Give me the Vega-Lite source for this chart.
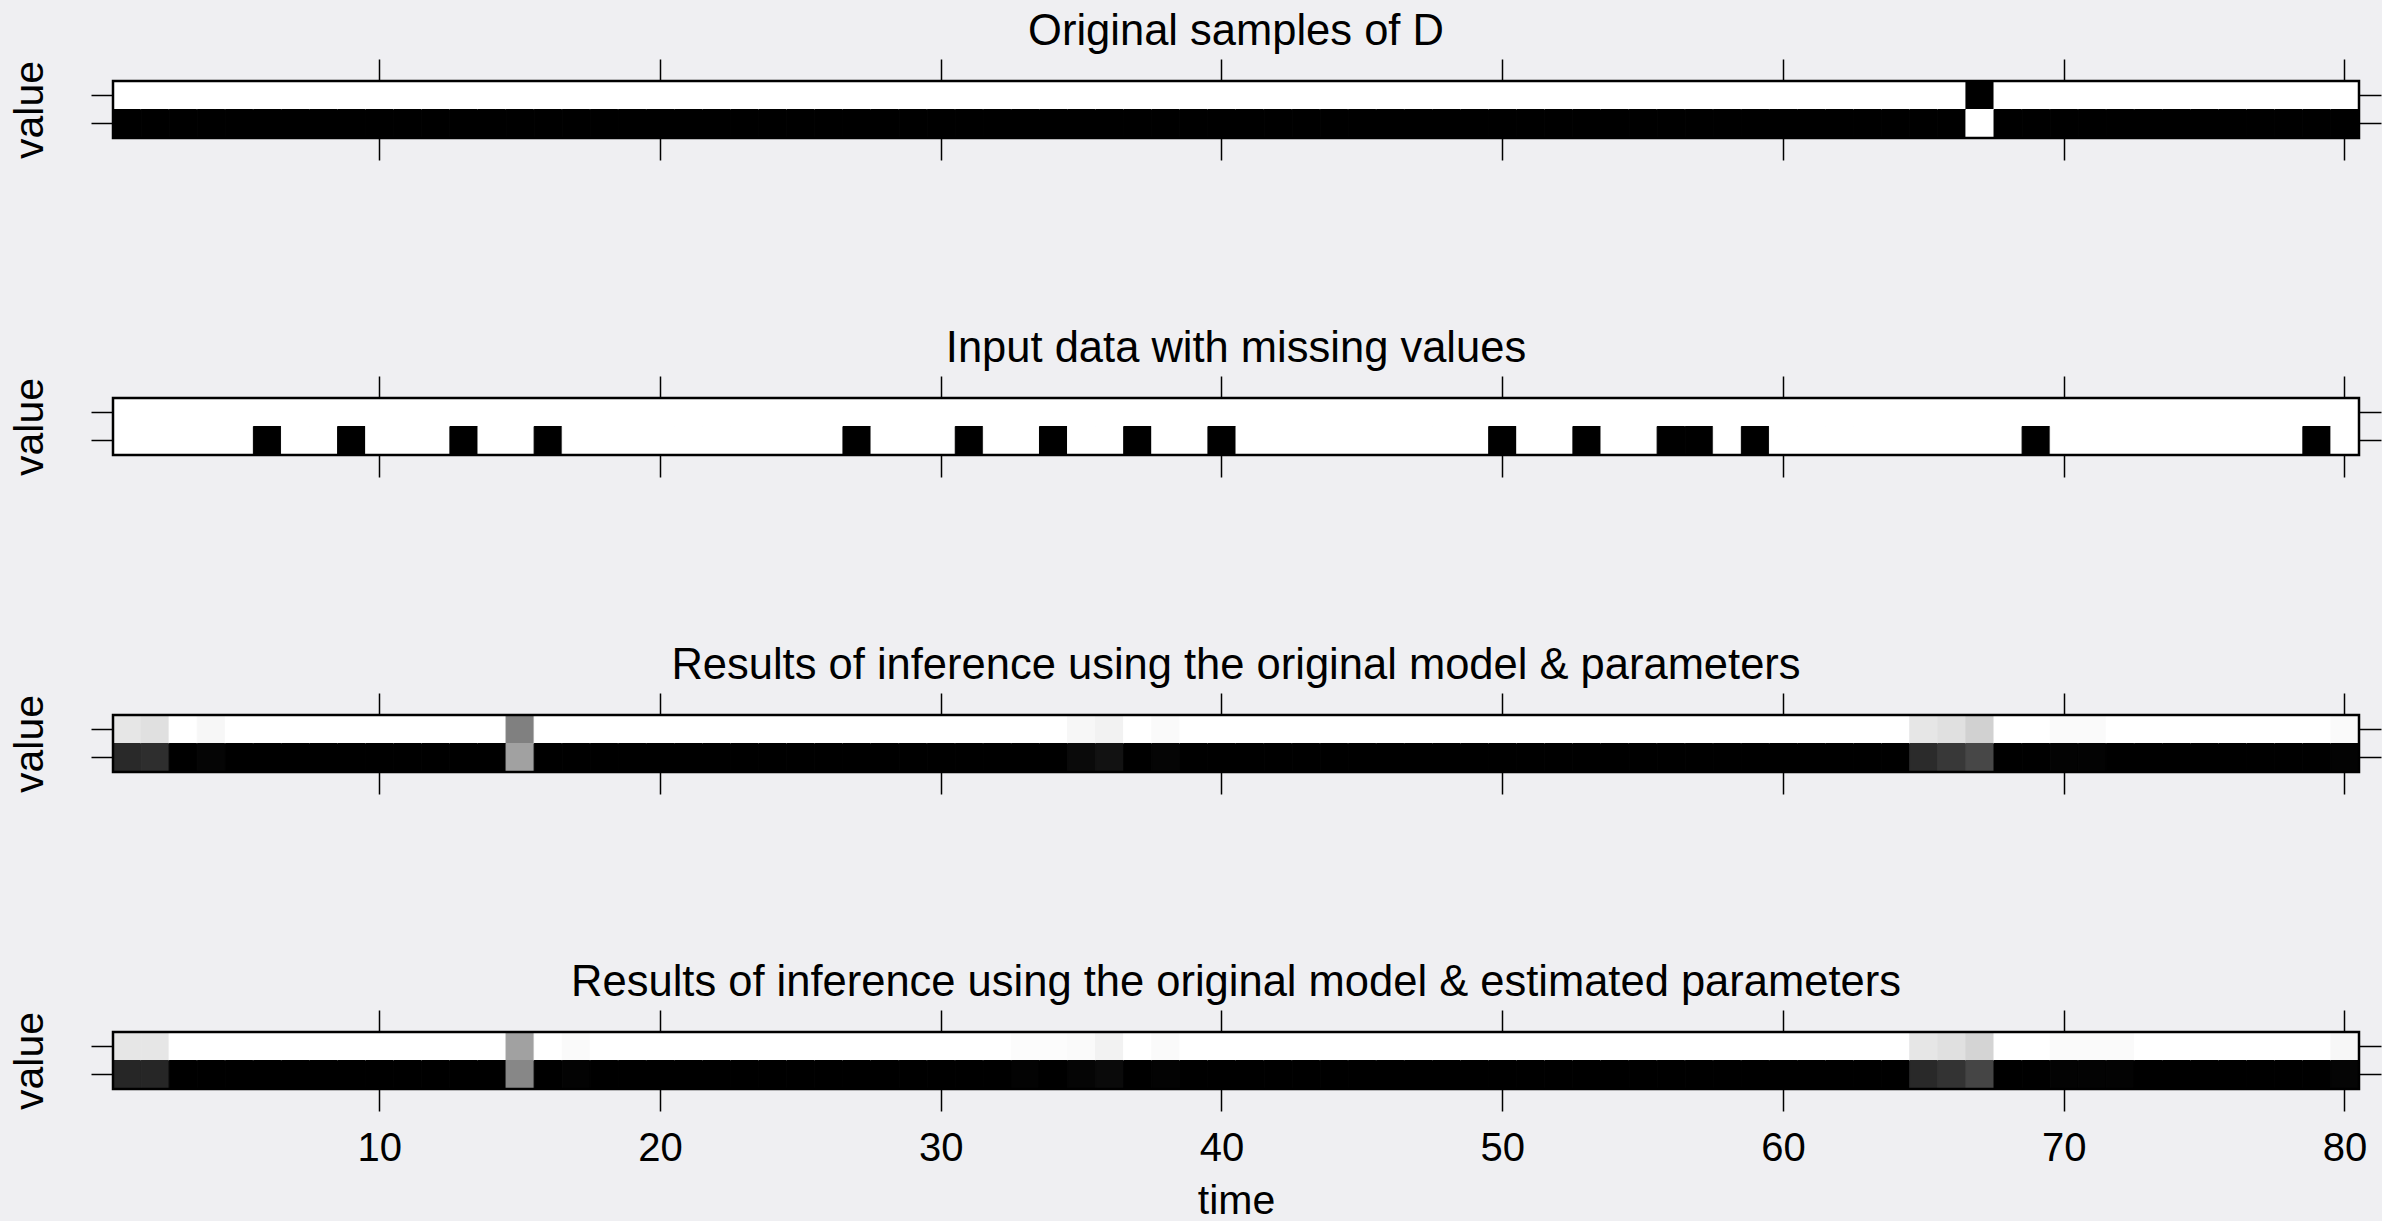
{
"$schema": "https://vega.github.io/schema/vega-lite/v6.json",
"background": "#efeff2",
"padding": {"left": 9, "top": 9, "right": 0, "bottom": 0},
"spacing": 165,
"config": {
 "font": "Liberation Sans",
 "view": {"stroke": null},
 "axis": {"domain": false, "grid": false, "tickColor": "black", "tickWidth": 1.5, "tickSize": 22, "labelFont": "Liberation Sans", "labelFontSize": 40, "labelColor": "black", "labelAngle": 0, "titleFont": "Liberation Sans", "titleFontSize": 41, "titleFontWeight": "normal", "titleColor": "black"}
},
"datasets": {
"o": [
{"t":1,"v":2,"p":0},{"t":1,"v":1,"p":1},{"t":2,"v":2,"p":0},{"t":2,"v":1,"p":1},{"t":3,"v":2,"p":0},{"t":3,"v":1,"p":1},{"t":4,"v":2,"p":0},{"t":4,"v":1,"p":1},{"t":5,"v":2,"p":0},{"t":5,"v":1,"p":1},
{"t":6,"v":2,"p":0},{"t":6,"v":1,"p":1},{"t":7,"v":2,"p":0},{"t":7,"v":1,"p":1},{"t":8,"v":2,"p":0},{"t":8,"v":1,"p":1},{"t":9,"v":2,"p":0},{"t":9,"v":1,"p":1},{"t":10,"v":2,"p":0},{"t":10,"v":1,"p":1},
{"t":11,"v":2,"p":0},{"t":11,"v":1,"p":1},{"t":12,"v":2,"p":0},{"t":12,"v":1,"p":1},{"t":13,"v":2,"p":0},{"t":13,"v":1,"p":1},{"t":14,"v":2,"p":0},{"t":14,"v":1,"p":1},{"t":15,"v":2,"p":0},{"t":15,"v":1,"p":1},
{"t":16,"v":2,"p":0},{"t":16,"v":1,"p":1},{"t":17,"v":2,"p":0},{"t":17,"v":1,"p":1},{"t":18,"v":2,"p":0},{"t":18,"v":1,"p":1},{"t":19,"v":2,"p":0},{"t":19,"v":1,"p":1},{"t":20,"v":2,"p":0},{"t":20,"v":1,"p":1},
{"t":21,"v":2,"p":0},{"t":21,"v":1,"p":1},{"t":22,"v":2,"p":0},{"t":22,"v":1,"p":1},{"t":23,"v":2,"p":0},{"t":23,"v":1,"p":1},{"t":24,"v":2,"p":0},{"t":24,"v":1,"p":1},{"t":25,"v":2,"p":0},{"t":25,"v":1,"p":1},
{"t":26,"v":2,"p":0},{"t":26,"v":1,"p":1},{"t":27,"v":2,"p":0},{"t":27,"v":1,"p":1},{"t":28,"v":2,"p":0},{"t":28,"v":1,"p":1},{"t":29,"v":2,"p":0},{"t":29,"v":1,"p":1},{"t":30,"v":2,"p":0},{"t":30,"v":1,"p":1},
{"t":31,"v":2,"p":0},{"t":31,"v":1,"p":1},{"t":32,"v":2,"p":0},{"t":32,"v":1,"p":1},{"t":33,"v":2,"p":0},{"t":33,"v":1,"p":1},{"t":34,"v":2,"p":0},{"t":34,"v":1,"p":1},{"t":35,"v":2,"p":0},{"t":35,"v":1,"p":1},
{"t":36,"v":2,"p":0},{"t":36,"v":1,"p":1},{"t":37,"v":2,"p":0},{"t":37,"v":1,"p":1},{"t":38,"v":2,"p":0},{"t":38,"v":1,"p":1},{"t":39,"v":2,"p":0},{"t":39,"v":1,"p":1},{"t":40,"v":2,"p":0},{"t":40,"v":1,"p":1},
{"t":41,"v":2,"p":0},{"t":41,"v":1,"p":1},{"t":42,"v":2,"p":0},{"t":42,"v":1,"p":1},{"t":43,"v":2,"p":0},{"t":43,"v":1,"p":1},{"t":44,"v":2,"p":0},{"t":44,"v":1,"p":1},{"t":45,"v":2,"p":0},{"t":45,"v":1,"p":1},
{"t":46,"v":2,"p":0},{"t":46,"v":1,"p":1},{"t":47,"v":2,"p":0},{"t":47,"v":1,"p":1},{"t":48,"v":2,"p":0},{"t":48,"v":1,"p":1},{"t":49,"v":2,"p":0},{"t":49,"v":1,"p":1},{"t":50,"v":2,"p":0},{"t":50,"v":1,"p":1},
{"t":51,"v":2,"p":0},{"t":51,"v":1,"p":1},{"t":52,"v":2,"p":0},{"t":52,"v":1,"p":1},{"t":53,"v":2,"p":0},{"t":53,"v":1,"p":1},{"t":54,"v":2,"p":0},{"t":54,"v":1,"p":1},{"t":55,"v":2,"p":0},{"t":55,"v":1,"p":1},
{"t":56,"v":2,"p":0},{"t":56,"v":1,"p":1},{"t":57,"v":2,"p":0},{"t":57,"v":1,"p":1},{"t":58,"v":2,"p":0},{"t":58,"v":1,"p":1},{"t":59,"v":2,"p":0},{"t":59,"v":1,"p":1},{"t":60,"v":2,"p":0},{"t":60,"v":1,"p":1},
{"t":61,"v":2,"p":0},{"t":61,"v":1,"p":1},{"t":62,"v":2,"p":0},{"t":62,"v":1,"p":1},{"t":63,"v":2,"p":0},{"t":63,"v":1,"p":1},{"t":64,"v":2,"p":0},{"t":64,"v":1,"p":1},{"t":65,"v":2,"p":0},{"t":65,"v":1,"p":1},
{"t":66,"v":2,"p":0},{"t":66,"v":1,"p":1},{"t":67,"v":2,"p":1},{"t":67,"v":1,"p":0},{"t":68,"v":2,"p":0},{"t":68,"v":1,"p":1},{"t":69,"v":2,"p":0},{"t":69,"v":1,"p":1},{"t":70,"v":2,"p":0},{"t":70,"v":1,"p":1},
{"t":71,"v":2,"p":0},{"t":71,"v":1,"p":1},{"t":72,"v":2,"p":0},{"t":72,"v":1,"p":1},{"t":73,"v":2,"p":0},{"t":73,"v":1,"p":1},{"t":74,"v":2,"p":0},{"t":74,"v":1,"p":1},{"t":75,"v":2,"p":0},{"t":75,"v":1,"p":1},
{"t":76,"v":2,"p":0},{"t":76,"v":1,"p":1},{"t":77,"v":2,"p":0},{"t":77,"v":1,"p":1},{"t":78,"v":2,"p":0},{"t":78,"v":1,"p":1},{"t":79,"v":2,"p":0},{"t":79,"v":1,"p":1},{"t":80,"v":2,"p":0},{"t":80,"v":1,"p":1}
],
"i": [
{"t":1,"v":2,"p":0},{"t":1,"v":1,"p":0},{"t":2,"v":2,"p":0},{"t":2,"v":1,"p":0},{"t":3,"v":2,"p":0},{"t":3,"v":1,"p":0},{"t":4,"v":2,"p":0},{"t":4,"v":1,"p":0},{"t":5,"v":2,"p":0},{"t":5,"v":1,"p":0},
{"t":6,"v":2,"p":0},{"t":6,"v":1,"p":1},{"t":7,"v":2,"p":0},{"t":7,"v":1,"p":0},{"t":8,"v":2,"p":0},{"t":8,"v":1,"p":0},{"t":9,"v":2,"p":0},{"t":9,"v":1,"p":1},{"t":10,"v":2,"p":0},{"t":10,"v":1,"p":0},
{"t":11,"v":2,"p":0},{"t":11,"v":1,"p":0},{"t":12,"v":2,"p":0},{"t":12,"v":1,"p":0},{"t":13,"v":2,"p":0},{"t":13,"v":1,"p":1},{"t":14,"v":2,"p":0},{"t":14,"v":1,"p":0},{"t":15,"v":2,"p":0},{"t":15,"v":1,"p":0},
{"t":16,"v":2,"p":0},{"t":16,"v":1,"p":1},{"t":17,"v":2,"p":0},{"t":17,"v":1,"p":0},{"t":18,"v":2,"p":0},{"t":18,"v":1,"p":0},{"t":19,"v":2,"p":0},{"t":19,"v":1,"p":0},{"t":20,"v":2,"p":0},{"t":20,"v":1,"p":0},
{"t":21,"v":2,"p":0},{"t":21,"v":1,"p":0},{"t":22,"v":2,"p":0},{"t":22,"v":1,"p":0},{"t":23,"v":2,"p":0},{"t":23,"v":1,"p":0},{"t":24,"v":2,"p":0},{"t":24,"v":1,"p":0},{"t":25,"v":2,"p":0},{"t":25,"v":1,"p":0},
{"t":26,"v":2,"p":0},{"t":26,"v":1,"p":0},{"t":27,"v":2,"p":0},{"t":27,"v":1,"p":1},{"t":28,"v":2,"p":0},{"t":28,"v":1,"p":0},{"t":29,"v":2,"p":0},{"t":29,"v":1,"p":0},{"t":30,"v":2,"p":0},{"t":30,"v":1,"p":0},
{"t":31,"v":2,"p":0},{"t":31,"v":1,"p":1},{"t":32,"v":2,"p":0},{"t":32,"v":1,"p":0},{"t":33,"v":2,"p":0},{"t":33,"v":1,"p":0},{"t":34,"v":2,"p":0},{"t":34,"v":1,"p":1},{"t":35,"v":2,"p":0},{"t":35,"v":1,"p":0},
{"t":36,"v":2,"p":0},{"t":36,"v":1,"p":0},{"t":37,"v":2,"p":0},{"t":37,"v":1,"p":1},{"t":38,"v":2,"p":0},{"t":38,"v":1,"p":0},{"t":39,"v":2,"p":0},{"t":39,"v":1,"p":0},{"t":40,"v":2,"p":0},{"t":40,"v":1,"p":1},
{"t":41,"v":2,"p":0},{"t":41,"v":1,"p":0},{"t":42,"v":2,"p":0},{"t":42,"v":1,"p":0},{"t":43,"v":2,"p":0},{"t":43,"v":1,"p":0},{"t":44,"v":2,"p":0},{"t":44,"v":1,"p":0},{"t":45,"v":2,"p":0},{"t":45,"v":1,"p":0},
{"t":46,"v":2,"p":0},{"t":46,"v":1,"p":0},{"t":47,"v":2,"p":0},{"t":47,"v":1,"p":0},{"t":48,"v":2,"p":0},{"t":48,"v":1,"p":0},{"t":49,"v":2,"p":0},{"t":49,"v":1,"p":0},{"t":50,"v":2,"p":0},{"t":50,"v":1,"p":1},
{"t":51,"v":2,"p":0},{"t":51,"v":1,"p":0},{"t":52,"v":2,"p":0},{"t":52,"v":1,"p":0},{"t":53,"v":2,"p":0},{"t":53,"v":1,"p":1},{"t":54,"v":2,"p":0},{"t":54,"v":1,"p":0},{"t":55,"v":2,"p":0},{"t":55,"v":1,"p":0},
{"t":56,"v":2,"p":0},{"t":56,"v":1,"p":1},{"t":57,"v":2,"p":0},{"t":57,"v":1,"p":1},{"t":58,"v":2,"p":0},{"t":58,"v":1,"p":0},{"t":59,"v":2,"p":0},{"t":59,"v":1,"p":1},{"t":60,"v":2,"p":0},{"t":60,"v":1,"p":0},
{"t":61,"v":2,"p":0},{"t":61,"v":1,"p":0},{"t":62,"v":2,"p":0},{"t":62,"v":1,"p":0},{"t":63,"v":2,"p":0},{"t":63,"v":1,"p":0},{"t":64,"v":2,"p":0},{"t":64,"v":1,"p":0},{"t":65,"v":2,"p":0},{"t":65,"v":1,"p":0},
{"t":66,"v":2,"p":0},{"t":66,"v":1,"p":0},{"t":67,"v":2,"p":0},{"t":67,"v":1,"p":0},{"t":68,"v":2,"p":0},{"t":68,"v":1,"p":0},{"t":69,"v":2,"p":0},{"t":69,"v":1,"p":1},{"t":70,"v":2,"p":0},{"t":70,"v":1,"p":0},
{"t":71,"v":2,"p":0},{"t":71,"v":1,"p":0},{"t":72,"v":2,"p":0},{"t":72,"v":1,"p":0},{"t":73,"v":2,"p":0},{"t":73,"v":1,"p":0},{"t":74,"v":2,"p":0},{"t":74,"v":1,"p":0},{"t":75,"v":2,"p":0},{"t":75,"v":1,"p":0},
{"t":76,"v":2,"p":0},{"t":76,"v":1,"p":0},{"t":77,"v":2,"p":0},{"t":77,"v":1,"p":0},{"t":78,"v":2,"p":0},{"t":78,"v":1,"p":0},{"t":79,"v":2,"p":0},{"t":79,"v":1,"p":1},{"t":80,"v":2,"p":0},{"t":80,"v":1,"p":0}
],
"r": [
{"t":1,"v":2,"p":0.10},{"t":1,"v":1,"p":0.84},{"t":2,"v":2,"p":0.12},{"t":2,"v":1,"p":0.82},{"t":3,"v":2,"p":0},{"t":3,"v":1,"p":1},{"t":4,"v":2,"p":0.03},{"t":4,"v":1,"p":0.98},{"t":5,"v":2,"p":0},{"t":5,"v":1,"p":1},
{"t":6,"v":2,"p":0},{"t":6,"v":1,"p":1},{"t":7,"v":2,"p":0},{"t":7,"v":1,"p":1},{"t":8,"v":2,"p":0},{"t":8,"v":1,"p":1},{"t":9,"v":2,"p":0},{"t":9,"v":1,"p":1},{"t":10,"v":2,"p":0},{"t":10,"v":1,"p":1},
{"t":11,"v":2,"p":0},{"t":11,"v":1,"p":1},{"t":12,"v":2,"p":0},{"t":12,"v":1,"p":1},{"t":13,"v":2,"p":0},{"t":13,"v":1,"p":1},{"t":14,"v":2,"p":0},{"t":14,"v":1,"p":1},{"t":15,"v":2,"p":0.50},{"t":15,"v":1,"p":0.37},
{"t":16,"v":2,"p":0},{"t":16,"v":1,"p":1},{"t":17,"v":2,"p":0},{"t":17,"v":1,"p":1},{"t":18,"v":2,"p":0},{"t":18,"v":1,"p":1},{"t":19,"v":2,"p":0},{"t":19,"v":1,"p":1},{"t":20,"v":2,"p":0},{"t":20,"v":1,"p":1},
{"t":21,"v":2,"p":0},{"t":21,"v":1,"p":1},{"t":22,"v":2,"p":0},{"t":22,"v":1,"p":1},{"t":23,"v":2,"p":0},{"t":23,"v":1,"p":1},{"t":24,"v":2,"p":0},{"t":24,"v":1,"p":1},{"t":25,"v":2,"p":0},{"t":25,"v":1,"p":1},
{"t":26,"v":2,"p":0},{"t":26,"v":1,"p":1},{"t":27,"v":2,"p":0},{"t":27,"v":1,"p":1},{"t":28,"v":2,"p":0},{"t":28,"v":1,"p":1},{"t":29,"v":2,"p":0},{"t":29,"v":1,"p":1},{"t":30,"v":2,"p":0},{"t":30,"v":1,"p":1},
{"t":31,"v":2,"p":0},{"t":31,"v":1,"p":1},{"t":32,"v":2,"p":0},{"t":32,"v":1,"p":1},{"t":33,"v":2,"p":0},{"t":33,"v":1,"p":1},{"t":34,"v":2,"p":0},{"t":34,"v":1,"p":1},{"t":35,"v":2,"p":0.03},{"t":35,"v":1,"p":0.96},
{"t":36,"v":2,"p":0.05},{"t":36,"v":1,"p":0.93},{"t":37,"v":2,"p":0},{"t":37,"v":1,"p":1},{"t":38,"v":2,"p":0.02},{"t":38,"v":1,"p":0.98},{"t":39,"v":2,"p":0},{"t":39,"v":1,"p":1},{"t":40,"v":2,"p":0},{"t":40,"v":1,"p":1},
{"t":41,"v":2,"p":0},{"t":41,"v":1,"p":1},{"t":42,"v":2,"p":0},{"t":42,"v":1,"p":1},{"t":43,"v":2,"p":0},{"t":43,"v":1,"p":1},{"t":44,"v":2,"p":0},{"t":44,"v":1,"p":1},{"t":45,"v":2,"p":0},{"t":45,"v":1,"p":1},
{"t":46,"v":2,"p":0},{"t":46,"v":1,"p":1},{"t":47,"v":2,"p":0},{"t":47,"v":1,"p":1},{"t":48,"v":2,"p":0},{"t":48,"v":1,"p":1},{"t":49,"v":2,"p":0},{"t":49,"v":1,"p":1},{"t":50,"v":2,"p":0},{"t":50,"v":1,"p":1},
{"t":51,"v":2,"p":0},{"t":51,"v":1,"p":1},{"t":52,"v":2,"p":0},{"t":52,"v":1,"p":1},{"t":53,"v":2,"p":0},{"t":53,"v":1,"p":1},{"t":54,"v":2,"p":0},{"t":54,"v":1,"p":1},{"t":55,"v":2,"p":0},{"t":55,"v":1,"p":1},
{"t":56,"v":2,"p":0},{"t":56,"v":1,"p":1},{"t":57,"v":2,"p":0},{"t":57,"v":1,"p":1},{"t":58,"v":2,"p":0},{"t":58,"v":1,"p":1},{"t":59,"v":2,"p":0},{"t":59,"v":1,"p":1},{"t":60,"v":2,"p":0},{"t":60,"v":1,"p":1},
{"t":61,"v":2,"p":0},{"t":61,"v":1,"p":1},{"t":62,"v":2,"p":0},{"t":62,"v":1,"p":1},{"t":63,"v":2,"p":0},{"t":63,"v":1,"p":1},{"t":64,"v":2,"p":0},{"t":64,"v":1,"p":1},{"t":65,"v":2,"p":0.10},{"t":65,"v":1,"p":0.83},
{"t":66,"v":2,"p":0.12},{"t":66,"v":1,"p":0.78},{"t":67,"v":2,"p":0.18},{"t":67,"v":1,"p":0.72},{"t":68,"v":2,"p":0},{"t":68,"v":1,"p":1},{"t":69,"v":2,"p":0},{"t":69,"v":1,"p":1},{"t":70,"v":2,"p":0.02},{"t":70,"v":1,"p":0.99},
{"t":71,"v":2,"p":0.02},{"t":71,"v":1,"p":0.99},{"t":72,"v":2,"p":0},{"t":72,"v":1,"p":1},{"t":73,"v":2,"p":0},{"t":73,"v":1,"p":1},{"t":74,"v":2,"p":0},{"t":74,"v":1,"p":1},{"t":75,"v":2,"p":0},{"t":75,"v":1,"p":1},
{"t":76,"v":2,"p":0},{"t":76,"v":1,"p":1},{"t":77,"v":2,"p":0},{"t":77,"v":1,"p":1},{"t":78,"v":2,"p":0},{"t":78,"v":1,"p":1},{"t":79,"v":2,"p":0},{"t":79,"v":1,"p":1},{"t":80,"v":2,"p":0.02},{"t":80,"v":1,"p":0.99}
],
"e": [
{"t":1,"v":2,"p":0.10},{"t":1,"v":1,"p":0.85},{"t":2,"v":2,"p":0.10},{"t":2,"v":1,"p":0.85},{"t":3,"v":2,"p":0},{"t":3,"v":1,"p":1},{"t":4,"v":2,"p":0},{"t":4,"v":1,"p":1},{"t":5,"v":2,"p":0},{"t":5,"v":1,"p":1},
{"t":6,"v":2,"p":0},{"t":6,"v":1,"p":1},{"t":7,"v":2,"p":0},{"t":7,"v":1,"p":1},{"t":8,"v":2,"p":0},{"t":8,"v":1,"p":1},{"t":9,"v":2,"p":0},{"t":9,"v":1,"p":1},{"t":10,"v":2,"p":0},{"t":10,"v":1,"p":1},
{"t":11,"v":2,"p":0},{"t":11,"v":1,"p":1},{"t":12,"v":2,"p":0},{"t":12,"v":1,"p":1},{"t":13,"v":2,"p":0},{"t":13,"v":1,"p":1},{"t":14,"v":2,"p":0},{"t":14,"v":1,"p":1},{"t":15,"v":2,"p":0.37},{"t":15,"v":1,"p":0.47},
{"t":16,"v":2,"p":0},{"t":16,"v":1,"p":1},{"t":17,"v":2,"p":0.02},{"t":17,"v":1,"p":0.99},{"t":18,"v":2,"p":0},{"t":18,"v":1,"p":1},{"t":19,"v":2,"p":0},{"t":19,"v":1,"p":1},{"t":20,"v":2,"p":0},{"t":20,"v":1,"p":1},
{"t":21,"v":2,"p":0},{"t":21,"v":1,"p":1},{"t":22,"v":2,"p":0},{"t":22,"v":1,"p":1},{"t":23,"v":2,"p":0},{"t":23,"v":1,"p":1},{"t":24,"v":2,"p":0},{"t":24,"v":1,"p":1},{"t":25,"v":2,"p":0},{"t":25,"v":1,"p":1},
{"t":26,"v":2,"p":0},{"t":26,"v":1,"p":1},{"t":27,"v":2,"p":0},{"t":27,"v":1,"p":1},{"t":28,"v":2,"p":0},{"t":28,"v":1,"p":1},{"t":29,"v":2,"p":0},{"t":29,"v":1,"p":1},{"t":30,"v":2,"p":0},{"t":30,"v":1,"p":1},
{"t":31,"v":2,"p":0},{"t":31,"v":1,"p":1},{"t":32,"v":2,"p":0},{"t":32,"v":1,"p":1},{"t":33,"v":2,"p":0.01},{"t":33,"v":1,"p":0.99},{"t":34,"v":2,"p":0.01},{"t":34,"v":1,"p":1},{"t":35,"v":2,"p":0.02},{"t":35,"v":1,"p":0.98},
{"t":36,"v":2,"p":0.05},{"t":36,"v":1,"p":0.96},{"t":37,"v":2,"p":0},{"t":37,"v":1,"p":1},{"t":38,"v":2,"p":0.02},{"t":38,"v":1,"p":0.99},{"t":39,"v":2,"p":0},{"t":39,"v":1,"p":1},{"t":40,"v":2,"p":0},{"t":40,"v":1,"p":1},
{"t":41,"v":2,"p":0},{"t":41,"v":1,"p":1},{"t":42,"v":2,"p":0},{"t":42,"v":1,"p":1},{"t":43,"v":2,"p":0},{"t":43,"v":1,"p":1},{"t":44,"v":2,"p":0},{"t":44,"v":1,"p":1},{"t":45,"v":2,"p":0},{"t":45,"v":1,"p":1},
{"t":46,"v":2,"p":0},{"t":46,"v":1,"p":1},{"t":47,"v":2,"p":0},{"t":47,"v":1,"p":1},{"t":48,"v":2,"p":0},{"t":48,"v":1,"p":1},{"t":49,"v":2,"p":0},{"t":49,"v":1,"p":1},{"t":50,"v":2,"p":0},{"t":50,"v":1,"p":1},
{"t":51,"v":2,"p":0},{"t":51,"v":1,"p":1},{"t":52,"v":2,"p":0},{"t":52,"v":1,"p":1},{"t":53,"v":2,"p":0},{"t":53,"v":1,"p":1},{"t":54,"v":2,"p":0},{"t":54,"v":1,"p":1},{"t":55,"v":2,"p":0},{"t":55,"v":1,"p":1},
{"t":56,"v":2,"p":0},{"t":56,"v":1,"p":1},{"t":57,"v":2,"p":0},{"t":57,"v":1,"p":1},{"t":58,"v":2,"p":0},{"t":58,"v":1,"p":1},{"t":59,"v":2,"p":0},{"t":59,"v":1,"p":1},{"t":60,"v":2,"p":0},{"t":60,"v":1,"p":1},
{"t":61,"v":2,"p":0},{"t":61,"v":1,"p":1},{"t":62,"v":2,"p":0},{"t":62,"v":1,"p":1},{"t":63,"v":2,"p":0},{"t":63,"v":1,"p":1},{"t":64,"v":2,"p":0},{"t":64,"v":1,"p":1},{"t":65,"v":2,"p":0.10},{"t":65,"v":1,"p":0.84},
{"t":66,"v":2,"p":0.12},{"t":66,"v":1,"p":0.80},{"t":67,"v":2,"p":0.17},{"t":67,"v":1,"p":0.73},{"t":68,"v":2,"p":0},{"t":68,"v":1,"p":1},{"t":69,"v":2,"p":0},{"t":69,"v":1,"p":1},{"t":70,"v":2,"p":0.02},{"t":70,"v":1,"p":0.99},
{"t":71,"v":2,"p":0.02},{"t":71,"v":1,"p":0.99},{"t":72,"v":2,"p":0.02},{"t":72,"v":1,"p":0.99},{"t":73,"v":2,"p":0},{"t":73,"v":1,"p":1},{"t":74,"v":2,"p":0},{"t":74,"v":1,"p":1},{"t":75,"v":2,"p":0},{"t":75,"v":1,"p":1},
{"t":76,"v":2,"p":0},{"t":76,"v":1,"p":1},{"t":77,"v":2,"p":0},{"t":77,"v":1,"p":1},{"t":78,"v":2,"p":0},{"t":78,"v":1,"p":1},{"t":79,"v":2,"p":0},{"t":79,"v":1,"p":1},{"t":80,"v":2,"p":0.03},{"t":80,"v":1,"p":0.98}
]
},
"vconcat": [
{
 "title": {"text": "Original samples of D", "fontSize": 43.5, "fontWeight": "normal", "font": "Liberation Sans", "color": "black", "offset": 4, "frame": "group", "anchor": "middle"},
 "width": 2246, "height": 57,
 "data": {"name": "o"},
 "layer": [
  {"mark": {"type": "rect", "strokeWidth": 1}, "encoding": {
    "x": {"field": "t", "type": "ordinal", "scale": {"paddingInner": 0, "paddingOuter": 0}, "axis": {"orient": "bottom", "values": [10,20,30,40,50,60,70,80], "labels": false, "title": null, "bandPosition": 0.5}},
    "y": {"field": "v", "type": "ordinal", "sort": "descending", "scale": {"paddingInner": 0, "paddingOuter": 0}, "axis": {"orient": "left", "labels": false, "title": "value", "titlePadding": 39}},
    "color": {"field": "p", "type": "quantitative", "scale": {"domain": [0, 1], "range": ["#ffffff", "#000000"], "interpolate": "rgb"}, "legend": null},
    "stroke": {"field": "p", "type": "quantitative", "scale": {"domain": [0, 1], "range": ["#ffffff", "#000000"], "interpolate": "rgb"}, "legend": null}}},
  {"mark": {"type": "rect", "opacity": 0}, "encoding": {
    "x": {"field": "t", "type": "ordinal", "axis": {"orient": "top", "values": [10,20,30,40,50,60,70,80], "labels": false, "title": null, "bandPosition": 0.5}},
    "y": {"field": "v", "type": "ordinal", "sort": "descending", "axis": {"orient": "right", "labels": false, "title": null}}}},
  {"data": {"values": [{"frame": 1}]}, "mark": {"type": "rect", "filled": false, "color": "black", "strokeWidth": 2.5}, "encoding": {}}
 ],
 "resolve": {"axis": {"x": "independent", "y": "independent"}}
},
{
 "title": {"text": "Input data with missing values", "fontSize": 43.5, "fontWeight": "normal", "font": "Liberation Sans", "color": "black", "offset": 4, "frame": "group", "anchor": "middle"},
 "width": 2246, "height": 57,
 "data": {"name": "i"},
 "layer": [
  {"mark": {"type": "rect", "strokeWidth": 1}, "encoding": {
    "x": {"field": "t", "type": "ordinal", "scale": {"paddingInner": 0, "paddingOuter": 0}, "axis": {"orient": "bottom", "values": [10,20,30,40,50,60,70,80], "labels": false, "title": null, "bandPosition": 0.5}},
    "y": {"field": "v", "type": "ordinal", "sort": "descending", "scale": {"paddingInner": 0, "paddingOuter": 0}, "axis": {"orient": "left", "labels": false, "title": "value", "titlePadding": 39}},
    "color": {"field": "p", "type": "quantitative", "scale": {"domain": [0, 1], "range": ["#ffffff", "#000000"], "interpolate": "rgb"}, "legend": null},
    "stroke": {"field": "p", "type": "quantitative", "scale": {"domain": [0, 1], "range": ["#ffffff", "#000000"], "interpolate": "rgb"}, "legend": null}}},
  {"mark": {"type": "rect", "opacity": 0}, "encoding": {
    "x": {"field": "t", "type": "ordinal", "axis": {"orient": "top", "values": [10,20,30,40,50,60,70,80], "labels": false, "title": null, "bandPosition": 0.5}},
    "y": {"field": "v", "type": "ordinal", "sort": "descending", "axis": {"orient": "right", "labels": false, "title": null}}}},
  {"data": {"values": [{"frame": 1}]}, "mark": {"type": "rect", "filled": false, "color": "black", "strokeWidth": 2.5}, "encoding": {}}
 ],
 "resolve": {"axis": {"x": "independent", "y": "independent"}}
},
{
 "title": {"text": "Results of inference using the original model & parameters", "fontSize": 43.5, "fontWeight": "normal", "font": "Liberation Sans", "color": "black", "offset": 4, "frame": "group", "anchor": "middle"},
 "width": 2246, "height": 57,
 "data": {"name": "r"},
 "layer": [
  {"mark": {"type": "rect", "strokeWidth": 1}, "encoding": {
    "x": {"field": "t", "type": "ordinal", "scale": {"paddingInner": 0, "paddingOuter": 0}, "axis": {"orient": "bottom", "values": [10,20,30,40,50,60,70,80], "labels": false, "title": null, "bandPosition": 0.5}},
    "y": {"field": "v", "type": "ordinal", "sort": "descending", "scale": {"paddingInner": 0, "paddingOuter": 0}, "axis": {"orient": "left", "labels": false, "title": "value", "titlePadding": 39}},
    "color": {"field": "p", "type": "quantitative", "scale": {"domain": [0, 1], "range": ["#ffffff", "#000000"], "interpolate": "rgb"}, "legend": null},
    "stroke": {"field": "p", "type": "quantitative", "scale": {"domain": [0, 1], "range": ["#ffffff", "#000000"], "interpolate": "rgb"}, "legend": null}}},
  {"mark": {"type": "rect", "opacity": 0}, "encoding": {
    "x": {"field": "t", "type": "ordinal", "axis": {"orient": "top", "values": [10,20,30,40,50,60,70,80], "labels": false, "title": null, "bandPosition": 0.5}},
    "y": {"field": "v", "type": "ordinal", "sort": "descending", "axis": {"orient": "right", "labels": false, "title": null}}}},
  {"data": {"values": [{"frame": 1}]}, "mark": {"type": "rect", "filled": false, "color": "black", "strokeWidth": 2.5}, "encoding": {}}
 ],
 "resolve": {"axis": {"x": "independent", "y": "independent"}}
},
{
 "title": {"text": "Results of inference using the original model & estimated parameters", "fontSize": 43.5, "fontWeight": "normal", "font": "Liberation Sans", "color": "black", "offset": 4, "frame": "group", "anchor": "middle"},
 "width": 2246, "height": 57,
 "data": {"name": "e"},
 "layer": [
  {"mark": {"type": "rect", "strokeWidth": 1}, "encoding": {
    "x": {"field": "t", "type": "ordinal", "scale": {"paddingInner": 0, "paddingOuter": 0}, "axis": {"orient": "bottom", "values": [10,20,30,40,50,60,70,80], "labels": true, "title": "time", "labelPadding": 17, "titlePadding": 13, "bandPosition": 0.5}},
    "y": {"field": "v", "type": "ordinal", "sort": "descending", "scale": {"paddingInner": 0, "paddingOuter": 0}, "axis": {"orient": "left", "labels": false, "title": "value", "titlePadding": 39}},
    "color": {"field": "p", "type": "quantitative", "scale": {"domain": [0, 1], "range": ["#ffffff", "#000000"], "interpolate": "rgb"}, "legend": null},
    "stroke": {"field": "p", "type": "quantitative", "scale": {"domain": [0, 1], "range": ["#ffffff", "#000000"], "interpolate": "rgb"}, "legend": null}}},
  {"mark": {"type": "rect", "opacity": 0}, "encoding": {
    "x": {"field": "t", "type": "ordinal", "axis": {"orient": "top", "values": [10,20,30,40,50,60,70,80], "labels": false, "title": null, "bandPosition": 0.5}},
    "y": {"field": "v", "type": "ordinal", "sort": "descending", "axis": {"orient": "right", "labels": false, "title": null}}}},
  {"data": {"values": [{"frame": 1}]}, "mark": {"type": "rect", "filled": false, "color": "black", "strokeWidth": 2.5}, "encoding": {}}
 ],
 "resolve": {"axis": {"x": "independent", "y": "independent"}}
}
]
}
